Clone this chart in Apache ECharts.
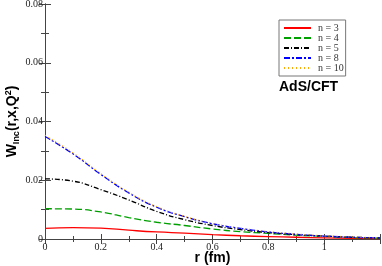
<!DOCTYPE html>
<html>
<head>
<meta charset="utf-8">
<script src="https://cdn.jsdelivr.net/npm/echarts@6/dist/echarts.min.js"></script>
<style>html,body{margin:0;padding:0;background:#fff}#c{width:382px;height:266px}</style>
</head>
<body>
<div id="c"></div>
<script>
var rValues = [0, 0.1, 0.2, 0.3, 0.4, 0.5, 0.6, 0.7, 0.8, 0.9, 1.0, 1.1, 1.2];
var n3  = [0.0036, 0.0039, 0.0037, 0.0030, 0.0024, 0.0020, 0.0015, 0.0011, 0.0008, 0.0006, 0.0004, 0.0002, 0.0001];
var n4  = [0.0103, 0.0102, 0.0092, 0.0073, 0.0057, 0.0046, 0.0034, 0.0025, 0.0019, 0.0013, 0.0009, 0.0005, 0.0003];
var n5  = [0.0205, 0.0197, 0.0168, 0.0133, 0.0094, 0.0066, 0.0046, 0.0032, 0.0022, 0.0015, 0.0010, 0.0006, 0.0004];
var n8  = [0.0349, 0.0290, 0.0220, 0.0157, 0.0108, 0.0076, 0.0052, 0.0036, 0.0024, 0.0016, 0.0010, 0.0006, 0.0004];
var n10 = [0.0353, 0.0293, 0.0222, 0.0159, 0.0110, 0.0077, 0.0053, 0.0037, 0.0025, 0.0017, 0.0011, 0.0007, 0.0004];
var seriesNames = ['n = 3', 'n = 4', 'n = 5', 'n = 8', 'n = 10'];
var xTicks = [0, 0.2, 0.4, 0.6, 0.8, 1];
var yTicks = [0, 0.02, 0.04, 0.06, 0.08];

function pairs(arr) { return rValues.map(function (r, i) { return [r, arr[i]]; }); }

var serif = '"Liberation Serif","DejaVu Serif",serif';
var sans = '"Liberation Sans",Arial,sans-serif';
var axisCol = '#444';

function xAx(show) {
  return {
    type: 'value', min: 0, max: 1.2, interval: 0.2,
    position: show ? 'bottom' : 'top',
    name: show ? 'r (fm)' : '', nameLocation: 'middle', nameGap: 12, nameMoveOverlap: false,
    nameTextStyle: { fontFamily: sans, fontWeight: 'bold', fontSize: 14, color: '#000' },
    axisLine: { show: true, lineStyle: { color: axisCol, width: 1 } },
    axisTick: { show: true, inside: true, length: 5, lineStyle: { color: axisCol } },
    minorTick: { show: true, splitNumber: 2, length: 3, lineStyle: { color: axisCol } },
    axisLabel: {
      show: show, fontFamily: serif, fontSize: 10, color: '#222', margin: 3,
      formatter: function (v) { var s = Math.round(v * 10) / 10; return xTicks.indexOf(s) >= 0 ? String(s) : ''; }
    },
    splitLine: { show: false }
  };
}
function yAx(show) {
  return {
    type: 'value', min: 0, max: 0.08, interval: 0.02,
    position: show ? 'left' : 'right',
    name: show ? 'W{sub|Inc}(r,x,Q{sup|2})' : '', nameLocation: 'middle', nameGap: 24, nameMoveOverlap: false,
    nameTextStyle: {
      fontFamily: sans, fontWeight: 'bold', fontSize: 14, color: '#000',
      rich: {
        sub: { fontFamily: sans, fontWeight: 'bold', fontSize: 9, color: '#000', verticalAlign: 'bottom', padding: [6, 0, 0, 0] },
        sup: { fontFamily: sans, fontWeight: 'bold', fontSize: 9, color: '#000', verticalAlign: 'top', padding: [0, 0, 8, 0] }
      }
    },
    axisLine: { show: true, lineStyle: { color: axisCol, width: 1 } },
    axisTick: { show: true, inside: true, length: 6, lineStyle: { color: axisCol } },
    minorTick: { show: true, splitNumber: 2, length: 4, lineStyle: { color: axisCol } },
    axisLabel: {
      show: show, fontFamily: serif, fontSize: 10, color: '#222', margin: 2,
      formatter: function (v) { var s = Math.round(v * 100) / 100; return yTicks.indexOf(s) < 0 ? '' : (s === 0 ? '0' : s.toFixed(2)); }
    },
    splitLine: { show: false }
  };
}

var styles = [
  { color: '#ff0000', type: 'solid' },
  { color: '#00a000', type: [7, 3] },
  { color: '#000000', type: [5, 2, 1, 2] },
  { color: '#0000ff', type: [6, 2, 2, 2] },
  { color: '#ffa500', type: [1, 3] }
];
var datas = [n3, n4, n5, n8, n10];

var chart = echarts.init(document.getElementById('c'), null, { renderer: 'canvas' });
chart.setOption({
  animation: false,
  backgroundColor: '#fff',
  grid: { left: 45, top: 4, right: 2, bottom: 27, containLabel: false, outerBoundsMode: 'none' },
  xAxis: [xAx(true), xAx(false)],
  yAxis: [yAx(true), yAx(false)],
  legend: {
    orient: 'vertical', left: 279, top: 20,
    data: seriesNames,
    itemWidth: 27, itemHeight: 8, itemGap: 0,
    padding: [3, 2, 3, 4],
    itemStyle: { opacity: 0 },
    backgroundColor: '#fff', borderColor: '#777', borderWidth: 1, borderRadius: 0,
    textStyle: { fontFamily: serif, fontSize: 10, color: '#333', padding: [0, 0, 0, 2] }
  },
  graphic: [{
    type: 'text', left: 279, top: 80,
    style: { text: 'AdS/CFT', fontFamily: sans, fontWeight: 'bold', fontSize: 14, fill: '#000' }
  }],
  series: datas.map(function (d, i) {
    return {
      name: seriesNames[i], type: 'line', smooth: true, symbol: 'none',
      xAxisIndex: 0, yAxisIndex: 0,
      data: pairs(d),
      lineStyle: { color: styles[i].color, type: styles[i].type, width: 1.3 },
      itemStyle: { color: styles[i].color }
    };
  })
});
</script>
</body>
</html>
